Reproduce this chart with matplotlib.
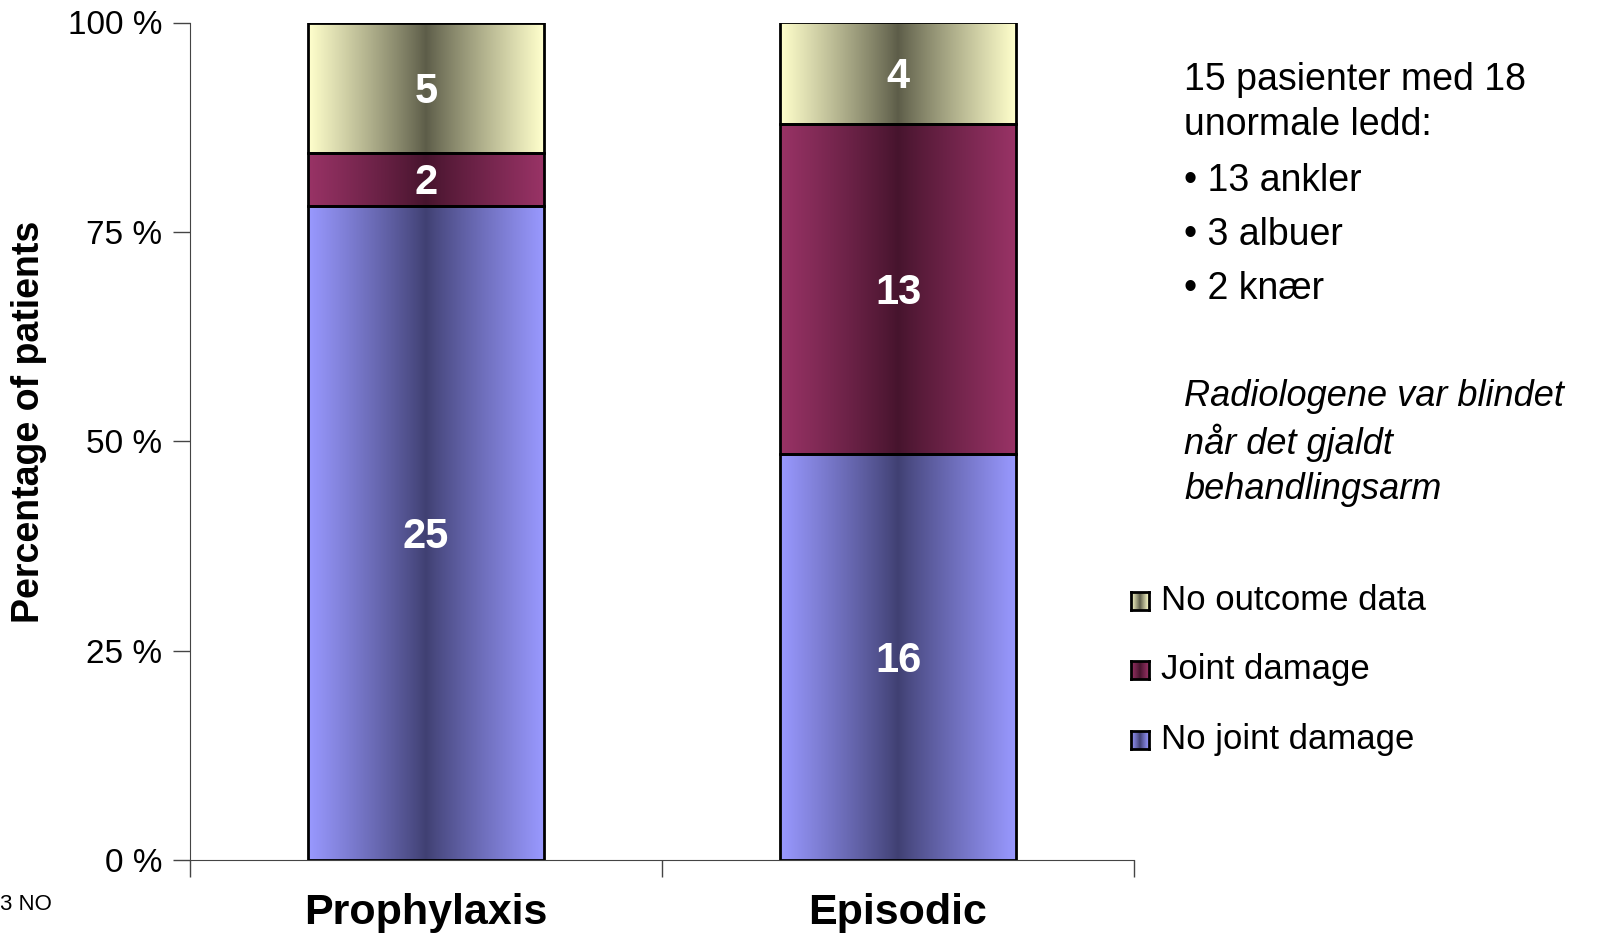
import matplotlib.pyplot as plt
import numpy as np
from matplotlib.patches import Rectangle

plt.rcParams['font.family'] = ['Liberation Sans', 'DejaVu Sans']

# Data: number of patients per outcome
groups = ["Prophylaxis", "Episodic"]
no_damage = [25, 16]
damage = [2, 13]
no_data = [5, 4]
series_names = ["No joint damage", "Joint damage", "No outcome data"]

# light edge colour, dark centre colour
light = ["#9999ff", "#993366", "#ffffcc"]
dark = ["#404072", "#46142d", "#5c5c48"]

counts = np.array([no_damage, damage, no_data], dtype=float)
totals = counts.sum(axis=0)
pct = counts / totals * 100

fig = plt.figure(figsize=(16, 9.34), dpi=100)
ax = fig.add_axes([190/1600, 1 - 860/934, 944/1600, (860-22.5)/934])

def hex2rgb(h):
    h = h.lstrip('#')
    return np.array([int(h[i:i+2], 16) for i in (0, 2, 4)]) / 255.0

u = np.linspace(0, 1, 200)
prof = np.abs(u - 0.5) * 2
prof = prof ** 0.9

def gradient(i):
    c1 = hex2rgb(light[i]); c0 = hex2rgb(dark[i])
    return (c0[None, :] + (c1 - c0)[None, :] * prof[:, None])[None, :, :]

width = 0.5
for j, g in enumerate(groups):
    bottom = 0
    for i in range(3):
        h = pct[i, j]
        ax.imshow(gradient(i), extent=[j - width/2, j + width/2, bottom, bottom + h],
                  aspect='auto', interpolation='bilinear', zorder=2)
        ax.add_patch(Rectangle((j - width/2, bottom), width, h, fill=False,
                               edgecolor='black', linewidth=2, zorder=3))
        ax.text(j, bottom + h/2 - 0.45, f"{int(counts[i, j])}", color='white', fontsize=30,
                fontweight='bold', ha='center', va='center', zorder=4)
        bottom += h

ax.set_xlim(-0.5, 1.5)
ax.set_ylim(0, 100)
ax.spines['top'].set_visible(False)
ax.spines['right'].set_visible(False)
ax.set_yticks([0, 25, 50, 75, 100])
ax.set_yticklabels(["0 %", "25 %", "50 %", "75 %", "100 %"], fontsize=24)
ax.tick_params(axis='y', length=12, width=1, pad=8, color='#444444')
ax.set_xticks([-0.5, 0.5, 1.5])
ax.set_xticklabels([])
ax.tick_params(axis='x', length=12, width=1, color='#444444')
ax.spines['left'].set_color('#444444')
ax.spines['bottom'].set_color('#444444')
for j, g in enumerate(groups):
    ax.text(j, -6.3, g, fontsize=31, fontweight='bold', ha='center', va='center')
ax.set_ylabel("Percentage of patients", fontsize=27, fontweight='bold')
ax.yaxis.set_label_coords(-0.152, 0.523)

# side notes
narrow = ['Liberation Sans Narrow', 'Liberation Sans', 'DejaVu Sans']
x_note = 1184/1600
lines = ["15 pasienter med 18", "unormale ledd:", "• 13 ankler", "• 3 albuer", "• 2 knær"]
ys = [80, 125, 181, 235, 289]
for t, y in zip(lines, ys):
    fig.text(x_note, 1 - y/934, t, fontsize=27, family=narrow, va='center')
ital = ["Radiologene var blindet", "når det gjaldt", "behandlingsarm"]
for k, t in enumerate(ital):
    fig.text(x_note, 1 - (396 + k*47)/934, t, fontsize=26, family=narrow,
             style='italic', va='center')

# legend with gradient swatches
leg_y = [601, 670, 740]
for k, i in enumerate([2, 1, 0]):
    y = leg_y[k]
    lax = fig.add_axes([1131/1600, 1 - (y + 9)/934, 18/1600, 18/934])
    lax.imshow(gradient(i), aspect='auto', interpolation='bilinear')
    lax.set_xticks([]); lax.set_yticks([])
    for s in lax.spines.values():
        s.set_linewidth(2)
    fig.text(1161/1600, 1 - y/934, series_names[i], fontsize=25, va='center')

fig.text(0, 1 - 904/934, "3 NO", fontsize=16, va='center')

plt.savefig("out.png")
